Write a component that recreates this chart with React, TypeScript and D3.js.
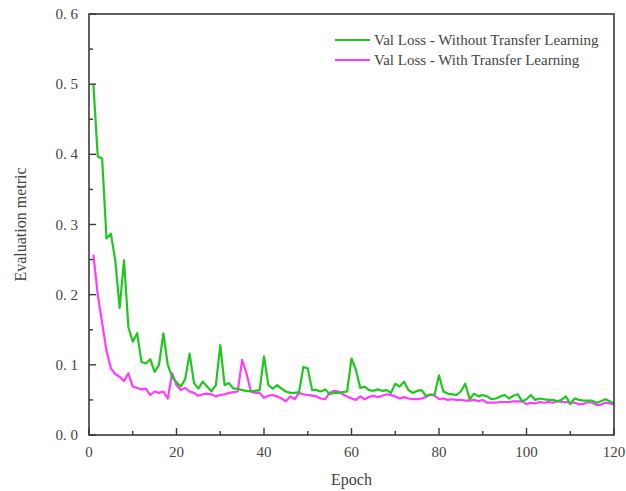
import React from 'react';
import * as d3 from 'd3';

// val loss per epoch (1..120)
const epochs = d3.range(1, 121);

const withoutTransfer = [
  0.500, 0.397, 0.394, 0.280, 0.287, 0.249, 0.181, 0.249, 0.154, 0.133,
  0.145, 0.104, 0.102, 0.108, 0.090, 0.100, 0.145, 0.100, 0.083, 0.075,
  0.069, 0.080, 0.116, 0.074, 0.066, 0.076, 0.069, 0.062, 0.071, 0.128,
  0.071, 0.074, 0.066, 0.066, 0.064, 0.063, 0.062, 0.063, 0.064, 0.112,
  0.071, 0.066, 0.071, 0.066, 0.062, 0.060, 0.060, 0.061, 0.097, 0.095,
  0.064, 0.064, 0.062, 0.065, 0.058, 0.060, 0.060, 0.061, 0.062, 0.109,
  0.093, 0.067, 0.069, 0.064, 0.063, 0.065, 0.063, 0.064, 0.060, 0.073,
  0.069, 0.076, 0.064, 0.060, 0.063, 0.064, 0.056, 0.057, 0.058, 0.085,
  0.062, 0.059, 0.058, 0.057, 0.062, 0.073, 0.051, 0.059, 0.055, 0.057,
  0.055, 0.051, 0.052, 0.055, 0.057, 0.052, 0.056, 0.058, 0.048, 0.051,
  0.057, 0.050, 0.052, 0.051, 0.050, 0.050, 0.048, 0.050, 0.055, 0.044,
  0.052, 0.050, 0.049, 0.049, 0.049, 0.046, 0.048, 0.051, 0.048, 0.045,
];

const withTransfer = [
  0.257, 0.200, 0.160, 0.120, 0.095, 0.087, 0.083, 0.077, 0.088, 0.069,
  0.067, 0.065, 0.066, 0.057, 0.062, 0.060, 0.062, 0.052, 0.088, 0.071,
  0.064, 0.067, 0.062, 0.060, 0.056, 0.058, 0.059, 0.058, 0.055, 0.057,
  0.058, 0.060, 0.061, 0.062, 0.107, 0.088, 0.062, 0.060, 0.060, 0.053,
  0.056, 0.057, 0.055, 0.052, 0.048, 0.055, 0.051, 0.060, 0.058, 0.057,
  0.056, 0.055, 0.052, 0.051, 0.060, 0.063, 0.062, 0.058, 0.055, 0.052,
  0.050, 0.055, 0.051, 0.054, 0.056, 0.054, 0.056, 0.058, 0.057, 0.055,
  0.052, 0.054, 0.052, 0.051, 0.051, 0.052, 0.054, 0.058, 0.056, 0.051,
  0.052, 0.050, 0.051, 0.050, 0.050, 0.049, 0.049, 0.050, 0.048, 0.050,
  0.046, 0.046, 0.046, 0.047, 0.047, 0.047, 0.048, 0.048, 0.048, 0.044,
  0.046, 0.045, 0.047, 0.046, 0.047, 0.046, 0.048, 0.047, 0.047, 0.046,
  0.046, 0.044, 0.044, 0.047, 0.046, 0.043, 0.043, 0.046, 0.045, 0.044,
];

const seriesNames = ['Val Loss - Without Transfer Learning', 'Val Loss - With Transfer Learning'];
const xMajorTicks = [0, 20, 40, 60, 80, 100, 120];
const xMinorTicks = [10, 30, 50, 70, 90, 110];
const yMajorTicks = [0, 0.1, 0.2, 0.3, 0.4, 0.5, 0.6];
const yMinorTicks = [0.05, 0.15, 0.25, 0.35, 0.45, 0.55];

const W = 626;
const H = 491;
const m = { left: 89, right: 12, top: 14, bottom: 56 };
const GREEN = '#1fc71f';
const MAGENTA = '#ff3cff';
const AXIS = '#3a3a3a';
const TEXT = '#444';
const FONT = '"Liberation Serif", "DejaVu Serif", serif';

export default function App() {
  const x = d3.scaleLinear().domain([0, 120]).range([m.left, W - m.right]);
  const y = d3.scaleLinear().domain([0, 0.6]).range([H - m.bottom, m.top]);

  const line = d3.line<number>()
    .x((_, i) => x(epochs[i]))
    .y(d => y(d));

  const fmt = (d: number) => d.toFixed(1).replace('.', '. ');
  const x0 = x(0), x1 = x(120), y0 = y(0), y1 = y(0.6);

  return (
    <svg width={W} height={H} style={{ position: 'absolute', left: 0, top: 0, background: '#fff' }}
      fontFamily={FONT}>
      <rect width={W} height={H} fill="#fff" />

      <path d={line(withTransfer) || ''} fill="none" stroke={MAGENTA} strokeWidth={2.2} strokeLinejoin="round" />
      <path d={line(withoutTransfer) || ''} fill="none" stroke={GREEN} strokeWidth={2.2} strokeLinejoin="round" />

      {/* frame */}
      <rect x={x0} y={y1} width={x1 - x0} height={y0 - y1} fill="none" stroke={AXIS} strokeWidth={1.6} />

      {/* x ticks */}
      {xMajorTicks.map(t => (
        <g key={'xM' + t}>
          <line x1={x(t)} x2={x(t)} y1={y0} y2={y0 - 7} stroke={AXIS} strokeWidth={1.4} />
          <text x={x(t)} y={y0 + 22} textAnchor="middle" fontSize={15} fill={TEXT}>{t}</text>
        </g>
      ))}
      {xMinorTicks.map(t => (
        <line key={'xm' + t} x1={x(t)} x2={x(t)} y1={y0} y2={y0 - 4} stroke={AXIS} strokeWidth={1.4} />
      ))}

      {/* y ticks */}
      {yMajorTicks.map(t => (
        <g key={'yM' + t}>
          <line x1={x0} x2={x0 + 7} y1={y(t)} y2={y(t)} stroke={AXIS} strokeWidth={1.4} />
          <text x={x0 - 11} y={y(t) + 5} textAnchor="end" fontSize={15} fill={TEXT}>{fmt(t)}</text>
        </g>
      ))}
      {yMinorTicks.map(t => (
        <line key={'ym' + t} x1={x0} x2={x0 + 4} y1={y(t)} y2={y(t)} stroke={AXIS} strokeWidth={1.4} />
      ))}

      {/* axis titles */}
      <text x={(x0 + x1) / 2} y={H - 6} textAnchor="middle" fontSize={16} fill={TEXT}>Epoch</text>
      <text transform={`translate(26,${(y0 + y1) / 2}) rotate(-90)`} textAnchor="middle" fontSize={16} fill={TEXT}>
        Evaluation metric
      </text>

      {/* legend */}
      {seriesNames.map((name, i) => (
        <g key={name} transform={`translate(335,${40 + i * 20})`}>
          <line x1={0} x2={35} y1={0} y2={0} stroke={i === 0 ? GREEN : MAGENTA} strokeWidth={2.2} />
          <text x={39} y={5} fontSize={15} fill={TEXT}>{name}</text>
        </g>
      ))}
    </svg>
  );
}
